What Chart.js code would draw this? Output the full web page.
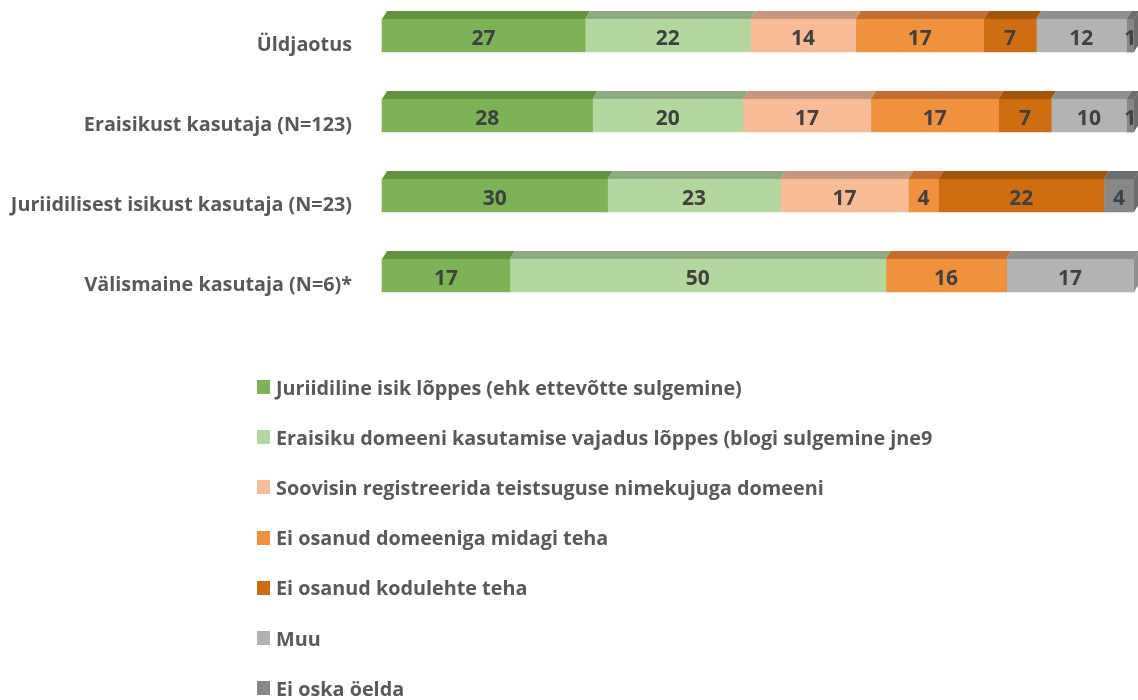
<!DOCTYPE html>
<html>
<head>
<meta charset="utf-8">
<script src="https://cdn.jsdelivr.net/npm/chart.js@4"></script>
<style>
  html, body { margin: 0; padding: 0; background: #fff; }
  #wrap { position: relative; width: 1138px; height: 700px; overflow: hidden; }
  #c { position: absolute; left: 0; top: 0; }
  #legend { position: absolute; left: 257px; top: 362px; font-family: "Open Sans", sans-serif; font-weight: bold; font-size: 19.8px; color: #595959; }
  .row { height: 50.2px; display: flex; align-items: center; }
  .sw { width: 13px; height: 14px; margin-right: 6px; flex: none; }
</style>
</head>
<body>
<div id="wrap">
  <canvas id="c" width="1138" height="700"></canvas>
  <div id="legend"></div>
</div>
<script>
const categories = ['Üldjaotus', 'Eraisikust kasutaja (N=123)', 'Juriidilisest isikust kasutaja (N=23)', 'Välismaine kasutaja (N=6)*'];
const seriesLabels = [
  'Juriidiline isik lõppes (ehk ettevõtte sulgemine)',
  'Eraisiku domeeni kasutamise vajadus lõppes (blogi sulgemine jne9',
  'Soovisin registreerida teistsuguse nimekujuga domeeni',
  'Ei osanud domeeniga midagi teha',
  'Ei osanud kodulehte teha',
  'Muu',
  'Ei oska öelda'
];
const juriidilineLoppes = [27, 28, 30, 17];
const eraisikuVajadusLoppes = [22, 20, 23, 50];
const teistNimekuju = [14, 17, 17, 0];
const domeenigaMidagi = [17, 17, 4, 16];
const kodulehteTeha = [7, 7, 22, 0];
const muu = [12, 10, 0, 17];
const eiOska = [1, 1, 4, 0];
const seriesValues = [juriidilineLoppes, eraisikuVajadusLoppes, teistNimekuju, domeenigaMidagi, kodulehteTeha, muu, eiOska];
const frontColors = ['#7DB256', '#B4D69F', '#F8BD96', '#EF913D', '#CF6E11', '#B3B3B3', '#878787'];
const topColors   = ['#629140', '#8FAA7E', '#C7967B', '#C56D31', '#A4550A', '#8F8F8F', '#6C6C6C'];

const DEPTH_X = 5, DEPTH_Y = 8;

const threeD = {
  id: 'threeD',
  afterDatasetsDraw(chart) {
    const ctx = chart.ctx;
    const n = chart.data.labels.length;
    const lastIdx = new Array(n).fill(-1);
    chart.data.datasets.forEach((ds, di) => {
      ds.data.forEach((v, i) => { if (v > 0) lastIdx[i] = di; });
    });
    ctx.save();
    chart.data.datasets.forEach((ds, di) => {
      const meta = chart.getDatasetMeta(di);
      meta.data.forEach((bar, i) => {
        if (!(ds.data[i] > 0)) return;
        const p = bar.getProps(['x', 'y', 'base', 'height'], true);
        const top = p.y - p.height / 2, bottom = p.y + p.height / 2;
        const l = p.base, r = p.x;
        ctx.fillStyle = topColors[di];
        ctx.beginPath();
        ctx.moveTo(l, top);
        ctx.lineTo(r, top);
        ctx.lineTo(r + DEPTH_X, top - DEPTH_Y);
        ctx.lineTo(l + DEPTH_X, top - DEPTH_Y);
        ctx.closePath();
        ctx.fill();
        if (lastIdx[i] === di) {
          ctx.beginPath();
          ctx.moveTo(r, top);
          ctx.lineTo(r + DEPTH_X, top - DEPTH_Y);
          ctx.lineTo(r + DEPTH_X, bottom - DEPTH_Y);
          ctx.lineTo(r, bottom);
          ctx.closePath();
          ctx.fill();
        }
        ctx.fillStyle = '#404040';
        ctx.font = 'bold 21px "Open Sans", sans-serif';
        ctx.textAlign = 'center';
        ctx.textBaseline = 'middle';
        ctx.fillText(String(ds.data[i]), (l + r) / 2, p.y + 4);
      });
    });
    ctx.restore();
  }
};

const chart = new Chart(document.getElementById('c'), {
  type: 'bar',
  data: {
    labels: categories,
    datasets: seriesValues.map((vals, i) => ({
      label: seriesLabels[i],
      data: vals,
      backgroundColor: frontColors[i],
      borderWidth: 0,
      barThickness: 33,
      clip: false
    }))
  },
  options: {
    indexAxis: 'y',
    responsive: false,
    animation: false,
    layout: { padding: { top: 35.5, bottom: 424.5, right: 4, left: 0 } },
    plugins: { legend: { display: false }, tooltip: { enabled: false } },
    scales: {
      x: { stacked: true, min: 0, max: 100, display: false },
      y: {
        stacked: true,
        offset: false,
        grid: { display: false, drawTicks: false },
        border: { display: false },
        ticks: { padding: 30, labelOffset: 10, color: '#595959', font: { family: 'Open Sans', weight: 'bold', size: 19.8 } },
        afterFit(scale) { scale.width = 382; scale.paddingTop = 0; scale.paddingBottom = 0; }
      }
    }
  },
  plugins: [threeD]
});

const legend = document.getElementById('legend');
chart.data.datasets.forEach((ds) => {
  const row = document.createElement('div');
  row.className = 'row';
  const sw = document.createElement('span');
  sw.className = 'sw';
  sw.style.background = ds.backgroundColor;
  const t = document.createElement('span');
  t.textContent = ds.label;
  row.appendChild(sw);
  row.appendChild(t);
  legend.appendChild(row);
});
</script>
</body>
</html>
